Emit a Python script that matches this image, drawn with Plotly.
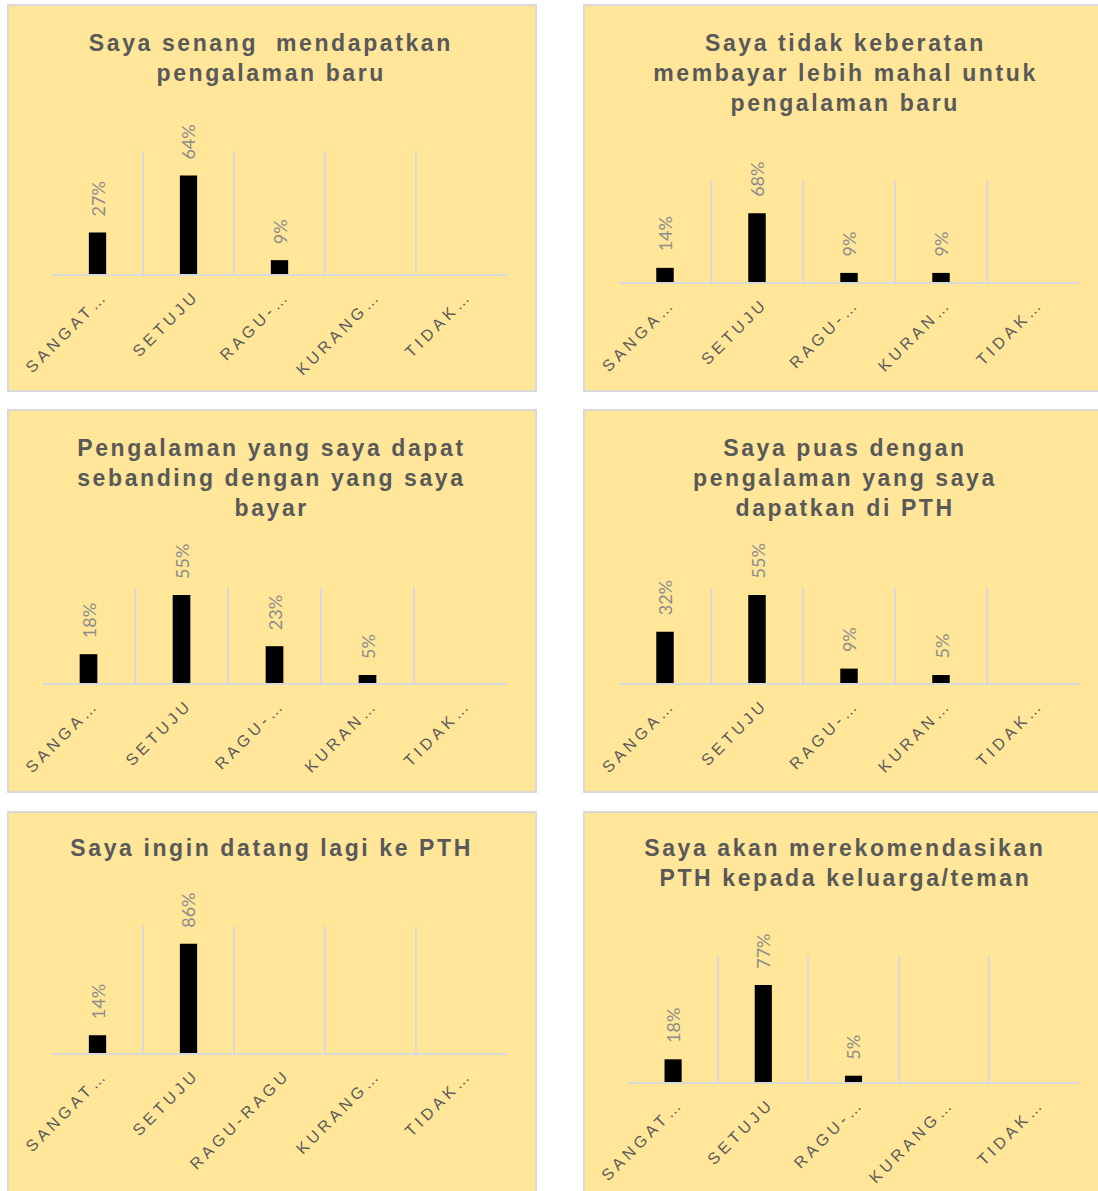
import plotly.graph_objects as go

W, H = 1098, 1191

categories = ["SANGAT SETUJU", "SETUJU", "RAGU-RAGU", "KURANG SETUJU", "TIDAK SETUJU"]

titles = [
    ["Saya senang  mendapatkan", "pengalaman baru"],
    ["Saya tidak keberatan", "membayar lebih mahal untuk", "pengalaman baru"],
    ["Pengalaman yang saya dapat", "sebanding dengan yang saya", "bayar"],
    ["Saya puas dengan", "pengalaman yang saya", "dapatkan di PTH"],
    ["Saya ingin datang lagi ke PTH"],
    ["Saya akan merekomendasikan", "PTH kepada keluarga/teman"],
]

tick_labels = [
    ["SANGAT…", "SETUJU", "RAGU-…", "KURANG…", "TIDAK…"],
    ["SANGA…", "SETUJU", "RAGU-…", "KURAN…", "TIDAK…"],
    ["SANGA…", "SETUJU", "RAGU-…", "KURAN…", "TIDAK…"],
    ["SANGA…", "SETUJU", "RAGU-…", "KURAN…", "TIDAK…"],
    ["SANGAT…", "SETUJU", "RAGU-RAGU", "KURANG…", "TIDAK…"],
    ["SANGAT…", "SETUJU", "RAGU-…", "KURANG…", "TIDAK…"],
]

values_p1 = [0.27, 0.64, 0.09, None, None]
values_p2 = [0.14, 0.68, 0.09, 0.09, None]
values_p3 = [0.18, 0.55, 0.23, 0.05, None]
values_p4 = [0.32, 0.55, 0.09, 0.05, None]
values_p5 = [0.14, 0.86, None, None, None]
values_p6 = [0.18, 0.77, 0.05, None, None]
all_values = [values_p1, values_p2, values_p3, values_p4, values_p5, values_p6]

y_max = [0.8, 1.0, 0.6, 0.6, 1.0, 1.0]

# layout (pixels): panel box, plot area, title center
panels = [
    dict(box=(8, 5, 536, 391), plot=(52, 151, 507, 274), tc=(271, 43)),
    dict(box=(584, 5, 1110, 391), plot=(619, 181, 1079, 282), tc=(845, 43)),
    dict(box=(8, 410, 536, 792), plot=(42, 587, 507, 683), tc=(271, 448)),
    dict(box=(584, 410, 1110, 792), plot=(619, 587, 1079, 683), tc=(845, 448)),
    dict(box=(8, 812, 536, 1210), plot=(52, 926, 507, 1053), tc=(271, 848)),
    dict(box=(584, 812, 1110, 1210), plot=(628, 956, 1079, 1082), tc=(845, 848)),
]

BG = "#FFE699"
BORDER = "#D9D9D9"
TXT = "#595959"
LBL = "#8C8C8C"

fig = go.Figure()
shapes = []
annotations = []
title_idx = []

def px(x):
    return x / W

def py(y):
    return 1 - y / H

for i, (p, vals) in enumerate(zip(panels, all_values)):
    n = "" if i == 0 else str(i + 1)
    x0, y0, x1, y1 = p["box"]
    shapes.append(dict(type="rect", xref="paper", yref="paper",
                       x0=px(x0), x1=px(x1), y0=py(y1), y1=py(y0),
                       fillcolor=BG, line=dict(color=BORDER, width=2), layer="below"))
    a0, b0, a1, b1 = p["plot"]
    fig.add_trace(go.Bar(x=categories, y=vals, marker=dict(color="black", line=dict(width=0)),
                         xaxis="x" + n, yaxis="y" + n, showlegend=False, hoverinfo="skip"))
    fig.layout["xaxis" + n] = dict(
        domain=[px(a0), px(a1)], anchor="y" + n, type="category",
        categoryorder="array", categoryarray=categories,
        tickmode="array", tickvals=categories, ticktext=tick_labels[i],
        tickson="boundaries", showgrid=True, gridcolor=BORDER, gridwidth=1.5,
        showline=True, linecolor=BORDER, linewidth=2, ticks="",
        tickangle=-45, ticklabelstandoff=4, ticklabelshift=6,
        tickfont=dict(family="Liberation Sans, Arial, sans-serif", size=16, color=TXT),
        range=[-0.5, 4.5], fixedrange=True, automargin=False,
    )
    fig.layout["yaxis" + n] = dict(
        domain=[py(b1), py(b0)], anchor="x" + n, range=[0, y_max[i]],
        showgrid=False, zeroline=False, showticklabels=False, showline=False,
        fixedrange=True, automargin=False,
    )
    # data labels
    for c, v in zip(categories, vals):
        if v is None:
            continue
        annotations.append(dict(
            x=c, y=v, xref="x" + n, yref="y" + n, text=f"{round(v*100)}%",
            textangle=-90, showarrow=False, yanchor="bottom", xanchor="center", yshift=14,
            font=dict(family="Lato, Liberation Sans, sans-serif", size=18, color=LBL),
        ))
    # titles
    cx, cy = p["tc"]
    for k, line in enumerate(titles[i]):
        title_idx.append(len(annotations))
        annotations.append(dict(
            x=px(cx), y=py(cy + 30 * k), xref="paper", yref="paper", text=line,
            showarrow=False, xanchor="center", yanchor="middle",
            font=dict(family="Liberation Sans, Arial, sans-serif",
                      size=23, color=TXT, weight="bold"),
        ))

fig.update_layout(
    width=W, height=H, margin=dict(l=0, r=0, t=0, b=0, pad=0, autoexpand=False),
    paper_bgcolor="white", plot_bgcolor="rgba(0,0,0,0)",
    bargap=0.81, shapes=shapes, annotations=annotations,
)

post = """
var gd = document.getElementById('{plot_id}');
var titleIdx = %s;
function applyLS(){
  gd.querySelectorAll('g.annotation').forEach(function(g){
    var i = +g.getAttribute('data-index');
    var t = g.querySelector('text.annotation-text');
    if (t && titleIdx.indexOf(i) >= 0) { t.style.letterSpacing = '2.6px'; }
  });
  gd.querySelectorAll('g.xaxislayer-above text').forEach(function(t){ t.style.letterSpacing = '4px'; });
}
applyLS();
gd.on('plotly_afterplot', applyLS);
""" % str(title_idx)

fig.write_html("out.html", post_script=post)
